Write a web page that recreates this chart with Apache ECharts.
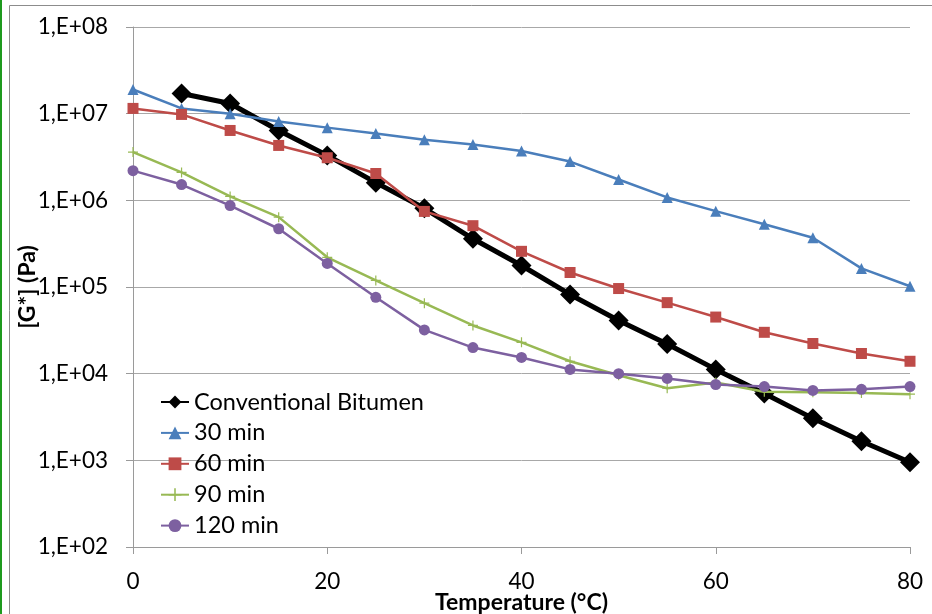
<!DOCTYPE html>
<html>
<head>
<meta charset="utf-8">
<script src="https://cdn.jsdelivr.net/npm/echarts@6/dist/echarts.min.js"></script>
<style>
html,body{margin:0;padding:0;background:#fff;}
#c{width:932px;height:614px;}
</style>
</head>
<body>
<div id="c"></div>
<script>
const temps = [0,5,10,15,20,25,30,35,40,45,50,55,60,65,70,75,80];
const seriesNames = ['Conventional Bitumen','30 min','60 min','90 min','120 min'];
const conventional = [null,1.71e7,1.31e7,6.4e6,3.3e6,1.6e6,8.1e5,3.6e5,1.77e5,8.2e4,4.1e4,2.2e4,1.12e4,5.9e3,3.05e3,1.66e3,9.5e2];
const min30 = [1.9e7,1.15e7,1.0e7,8.1e6,6.9e6,5.9e6,5.0e6,4.4e6,3.7e6,2.8e6,1.74e6,1.08e6,7.5e5,5.3e5,3.7e5,1.64e5,1.02e5];
const min60 = [1.15e7,9.8e6,6.4e6,4.3e6,3.1e6,2.04e6,7.45e5,5.1e5,2.58e5,1.47e5,9.6e4,6.6e4,4.5e4,3.0e4,2.23e4,1.71e4,1.39e4];
const min90 = [3.6e6,2.1e6,1.11e6,6.4e5,2.2e5,1.19e5,6.5e4,3.6e4,2.3e4,1.39e4,9.6e3,6.8e3,7.9e3,6.2e3,6.1e3,6.0e3,5.8e3];
const min120 = [2.2e6,1.52e6,8.7e5,4.7e5,1.87e5,7.6e4,3.2e4,2.0e4,1.54e4,1.12e4,1.0e4,8.8e3,7.5e3,7.1e3,6.4e3,6.6e3,7.1e3];
const xTicks = [0,20,40,60,80];
const yTickExponents = [2,3,4,5,6,7,8];

const FONT = 'Lato';
function pairs(arr){ return temps.map((t,i)=> arr[i]==null ? null : [t, arr[i]]).filter(p=>p); }
const plus = 'path://M4.4,0 h1.2 v4.4 h4.4 v1.2 h-4.4 v4.4 h-1.2 v-4.4 h-4.4 v-1.2 h4.4z';

const chart = echarts.init(document.getElementById('c'), null, {renderer:'canvas'});
chart.setOption({
  animation:false,
  backgroundColor:'#fff',
  textStyle:{fontFamily:FONT},
  grid:{left:133,right:22,top:27,bottom:67,containLabel:false,outerBoundsMode:'none'},
  xAxis:{
    type:'value', min:xTicks[0], max:xTicks[xTicks.length-1], interval:20,
    name:'Temperature (°C)', nameLocation:'middle', nameGap:56, nameMoveOverlap:false,
    nameTextStyle:{fontFamily:FONT,fontSize:23,fontWeight:'bold',color:'#000',verticalAlign:'middle'},
    axisLine:{show:true,onZero:false,lineStyle:{color:'#9a9a9a',width:1}},
    axisTick:{show:true,inside:false,length:7,lineStyle:{color:'#9a9a9a'}},
    axisLabel:{fontFamily:FONT,fontSize:22.5,color:'#000',margin:23},
    splitLine:{show:false}
  },
  yAxis:{
    type:'log', logBase:10, min:Math.pow(10,yTickExponents[0]), max:Math.pow(10,yTickExponents[yTickExponents.length-1]),
    name:'[G*] (Pa)', nameLocation:'middle', nameGap:105, nameMoveOverlap:false,
    nameTextStyle:{fontFamily:FONT,fontSize:23,fontWeight:'bold',color:'#000',verticalAlign:'middle'},
    axisLine:{show:true,lineStyle:{color:'#9a9a9a',width:1}},
    axisTick:{show:true,inside:false,length:7,lineStyle:{color:'#9a9a9a'}},
    axisLabel:{fontFamily:FONT,fontSize:22.5,color:'#000',margin:25,
      formatter:function(v){const e=Math.round(Math.log10(v));return '1,E+'+(e<10?'0':'')+e;}},
    splitLine:{show:true,lineStyle:{color:'#a8a8a8',width:1}},
    minorTick:{show:false}
  },
  legend:{
    orient:'vertical', left:155, top:385,
    itemWidth:28, itemHeight:16, itemGap:6.9,
    textStyle:{fontFamily:FONT,fontSize:23.5,color:'#000'},
    data:seriesNames
  },
  graphic:[
    {type:'rect',silent:true,shape:{x:9.5,y:5.5,width:960,height:700},style:{fill:'none',stroke:'#8c8c8c',lineWidth:1},z:-10},
    {type:'line',silent:true,shape:{x1:1,y1:0,x2:1,y2:614},style:{stroke:'#1e9a1e',lineWidth:2}}
  ],
  series:[
    {name:seriesNames[0],type:'line',data:pairs(conventional),symbol:'diamond',symbolSize:20,
     lineStyle:{color:'#000',width:5},itemStyle:{color:'#000'},z:2},
    {name:seriesNames[1],type:'line',data:pairs(min30),symbol:'triangle',symbolSize:11,
     lineStyle:{color:'#4a7ebb',width:2.5},itemStyle:{color:'#4a7ebb'},z:3},
    {name:seriesNames[2],type:'line',data:pairs(min60),symbol:'rect',symbolSize:11,
     lineStyle:{color:'#be4b48',width:2.5},itemStyle:{color:'#be4b48'},z:4},
    {name:seriesNames[3],type:'line',data:pairs(min90),symbol:plus,symbolSize:10,
     lineStyle:{color:'#98b954',width:2.5},itemStyle:{color:'#98b954'},z:5},
    {name:seriesNames[4],type:'line',data:pairs(min120),symbol:'circle',symbolSize:11,
     lineStyle:{color:'#7d60a0',width:2.5},itemStyle:{color:'#7d60a0'},z:6}
  ]
});
</script>
</body>
</html>
